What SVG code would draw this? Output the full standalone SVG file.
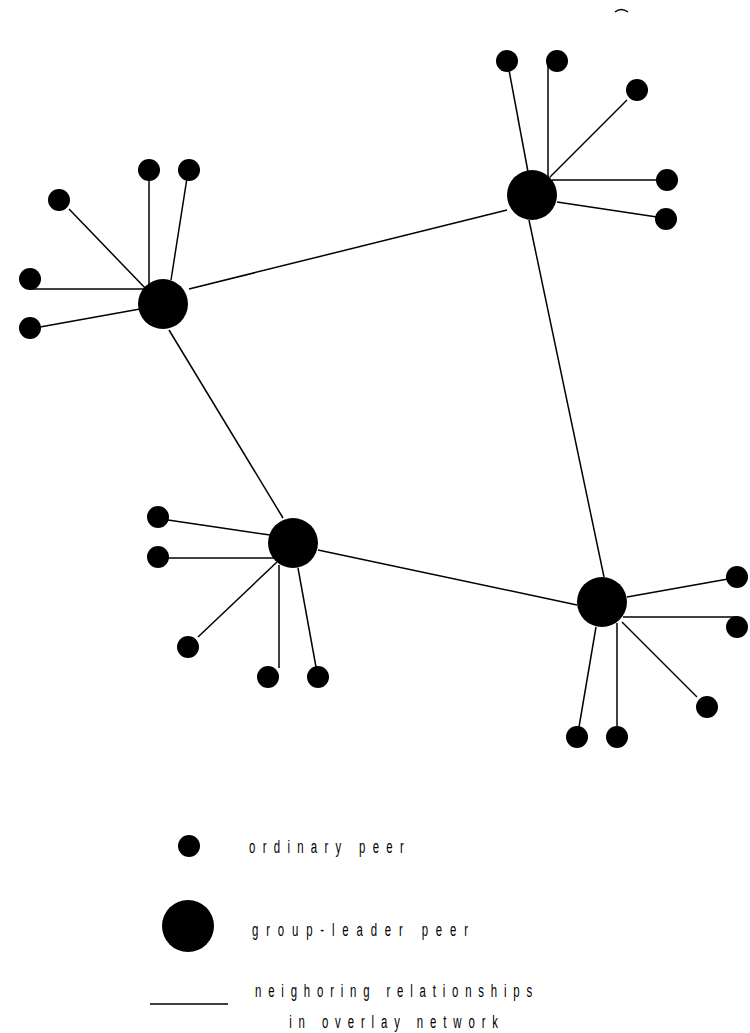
<svg xmlns="http://www.w3.org/2000/svg" width="750" height="1033" viewBox="0 0 750 1033">
<style>
.e{stroke:#000;stroke-width:1.5;fill:none}
.leaf{fill:#000}
.lead{fill:#000}
.t{font-family:"Liberation Sans",Arial,sans-serif;font-size:19px;fill:#000}
</style>
<rect width="750" height="1033" fill="#fff"/>
<path class="e" d="M615,12 Q621,7 628,12"/>
<g id="connectors">
<line class="e" x1="189" y1="289" x2="507" y2="210"/>
<line class="e" x1="169" y1="330" x2="283" y2="518"/>
<line class="e" x1="318" y1="550" x2="577" y2="605"/>
<line class="e" x1="529" y1="220" x2="604" y2="577"/>
<line class="e" x1="149" y1="170" x2="149" y2="289"/>
<line class="e" x1="187" y1="178" x2="171" y2="280"/>
<line class="e" x1="69" y1="209" x2="147" y2="290"/>
<line class="e" x1="30" y1="289" x2="147" y2="289"/>
<line class="e" x1="40" y1="327" x2="140" y2="309"/>
<line class="e" x1="509" y1="70" x2="528" y2="172"/>
<line class="e" x1="548" y1="61" x2="548" y2="177"/>
<line class="e" x1="627" y1="100" x2="550" y2="177"/>
<line class="e" x1="552" y1="180" x2="657" y2="180"/>
<line class="e" x1="557" y1="202" x2="657" y2="217"/>
<line class="e" x1="168" y1="520" x2="270" y2="535"/>
<line class="e" x1="158" y1="558" x2="275" y2="558"/>
<line class="e" x1="198" y1="637" x2="277" y2="562"/>
<line class="e" x1="279" y1="565" x2="279" y2="668"/>
<line class="e" x1="298" y1="568" x2="316" y2="667"/>
<line class="e" x1="627" y1="597" x2="728" y2="579"/>
<line class="e" x1="623" y1="617" x2="737" y2="617"/>
<line class="e" x1="622" y1="622" x2="697" y2="697"/>
<line class="e" x1="617" y1="623" x2="617" y2="727"/>
<line class="e" x1="596" y1="627" x2="579" y2="727"/>
</g>
<g id="leaderA"><circle class="lead" cx="163" cy="304" r="25"/></g>
<g id="leaderB"><circle class="lead" cx="532" cy="195" r="25"/></g>
<g id="leaderC"><circle class="lead" cx="293" cy="543" r="25"/></g>
<g id="leaderD"><circle class="lead" cx="602" cy="602" r="25"/></g>
<g id="peersA">
<circle class="leaf" cx="149" cy="170" r="11"/>
<circle class="leaf" cx="189" cy="170" r="11"/>
<circle class="leaf" cx="59" cy="200" r="11"/>
<circle class="leaf" cx="30" cy="279" r="11"/>
<circle class="leaf" cx="30" cy="328" r="11"/>
</g>
<g id="peersB">
<circle class="leaf" cx="507" cy="61" r="11"/>
<circle class="leaf" cx="557" cy="61" r="11"/>
<circle class="leaf" cx="637" cy="90" r="11"/>
<circle class="leaf" cx="667" cy="180" r="11"/>
<circle class="leaf" cx="666" cy="219" r="11"/>
</g>
<g id="peersC">
<circle class="leaf" cx="158" cy="517" r="11"/>
<circle class="leaf" cx="158" cy="557" r="11"/>
<circle class="leaf" cx="188" cy="647" r="11"/>
<circle class="leaf" cx="268" cy="677" r="11"/>
<circle class="leaf" cx="318" cy="677" r="11"/>
</g>
<g id="peersD">
<circle class="leaf" cx="737" cy="577" r="11"/>
<circle class="leaf" cx="737" cy="627" r="11"/>
<circle class="leaf" cx="707" cy="707" r="11"/>
<circle class="leaf" cx="617" cy="737" r="11"/>
<circle class="leaf" cx="577" cy="737" r="11"/>
</g>
<g id="legend">
<circle class="leaf" cx="189" cy="846" r="11"/>
<circle class="lead" cx="188" cy="926" r="26"/>
<line class="e" x1="150" y1="1004" x2="228" y2="1004"/>
<g transform="scale(0.6,1)">
<text class="t" x="415" y="853" textLength="258" lengthAdjust="spacing">ordinary peer</text>
<text class="t" x="420" y="936" textLength="360" lengthAdjust="spacing">group-leader peer</text>
<text class="t" x="425" y="997" textLength="462" lengthAdjust="spacing">neighoring relationships</text>
<text class="t" x="482" y="1028" textLength="348" lengthAdjust="spacing">in overlay network</text>
</g>
</g>
</svg>
